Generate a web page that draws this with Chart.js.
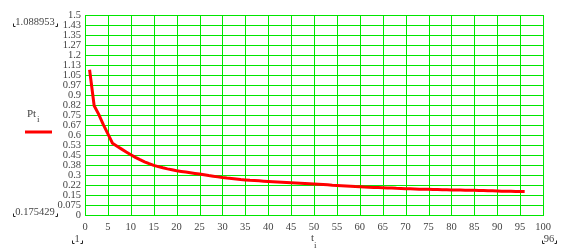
<!DOCTYPE html>
<html>
<head>
<meta charset="utf-8">
<script src="https://cdn.jsdelivr.net/npm/chart.js@4.4.0/dist/chart.umd.min.js"></script>
<style>
  html, body { margin: 0; padding: 0; background: #fff; overflow: hidden; }
  canvas { display: block; }
</style>
</head>
<body>
<canvas id="plot" width="570" height="251"></canvas>
<script>
// t_i = 1..96
const tValues = Array.from({ length: 96 }, (_, i) => i + 1);

// Pt_i
const pValues = [
    1.088953, 0.82, 0.755, 0.678, 0.608, 0.538,
    0.515, 0.494, 0.472, 0.452,
    0.432, 0.415, 0.399, 0.385, 0.372,
    0.363, 0.354, 0.346, 0.339, 0.332,
    0.327, 0.322, 0.317, 0.312, 0.307,
    0.302, 0.296, 0.291, 0.286, 0.281,
    0.277, 0.274, 0.270, 0.266, 0.263,
    0.260, 0.258, 0.256, 0.254, 0.252,
    0.250, 0.248, 0.246, 0.244, 0.242,
    0.240, 0.238, 0.236, 0.234, 0.232,
    0.230, 0.228, 0.226, 0.223, 0.221,
    0.219, 0.217, 0.215, 0.213, 0.212,
    0.210, 0.209, 0.207, 0.206, 0.205,
    0.203, 0.202, 0.200, 0.199, 0.197,
    0.196, 0.195, 0.194, 0.193, 0.193,
    0.192, 0.191, 0.190, 0.189, 0.188,
    0.187, 0.187, 0.186, 0.185, 0.185,
    0.184, 0.183, 0.182, 0.181, 0.180,
    0.179, 0.179, 0.178, 0.177, 0.176, 0.175429
];

// y grid: 20 equal steps of 0.075, labels as Mathcad prints them
const yTickValues = [0, 0.075, 0.15, 0.225, 0.3, 0.375, 0.45, 0.525, 0.6, 0.675, 0.75,
    0.825, 0.9, 0.975, 1.05, 1.125, 1.2, 1.275, 1.35, 1.425, 1.5];
const yTickLabels = ['0', '0.075', '0.15', '0.22', '0.3', '0.38', '0.45', '0.53', '0.6', '0.67', '0.75',
    '0.82', '0.9', '0.97', '1.05', '1.13', '1.2', '1.27', '1.35', '1.43', '1.5'];

// axis limit markers and names
const yMaxLabel = '1.088953';
const yMinLabel = '0.175429';
const xMinLabel = '1';
const xMaxLabel = '96';

const GREEN = '#00e600';
const TEXT = '#444444';
const FONT = '10.5px "Liberation Serif", "DejaVu Serif", serif';

// marker text with small corner brackets, like Mathcad's axis limits
function bracketText(ctx, text, cx, cy) {
    ctx.font = FONT;
    ctx.fillStyle = TEXT;
    ctx.textAlign = 'center';
    ctx.textBaseline = 'middle';
    ctx.fillText(text, cx, cy);
    const w = ctx.measureText(text).width;
    const l = Math.round(cx - w / 2 - 2) + 0.5;
    const r = Math.round(cx + w / 2 + 2) + 0.5;
    const b = Math.round(cy + 4) + 0.5;
    ctx.strokeStyle = '#222';
    ctx.lineWidth = 1;
    ctx.beginPath();
    ctx.moveTo(l, b - 3); ctx.lineTo(l, b); ctx.lineTo(l + 2, b);
    ctx.moveTo(r, b - 3); ctx.lineTo(r, b); ctx.lineTo(r - 2, b);
    ctx.stroke();
}

// crisp 1px green grid on whole pixels, taken from the scales' ticks
const sharpGrid = {
    id: 'sharpGrid',
    beforeDatasetsDraw(chart) {
        const { ctx, chartArea: a, scales } = chart;
        const left = Math.round(a.left), right = Math.round(a.right);
        const top = Math.round(a.top), bottom = Math.round(a.bottom);
        ctx.save();
        ctx.fillStyle = GREEN;
        scales.y.ticks.forEach(t => {
            const y = Math.round(scales.y.getPixelForValue(t.value));
            ctx.fillRect(left, y, right - left + 1, 1);
        });
        scales.x.ticks.forEach(t => {
            const x = Math.round(scales.x.getPixelForValue(t.value));
            ctx.fillRect(x, top, 1, bottom - top + 1);
        });
        ctx.restore();
    }
};

const extras = {
    id: 'extras',
    afterDraw(chart) {
        const ctx = chart.ctx;
        ctx.save();
        bracketText(ctx, yMaxLabel, 35, 22);
        bracketText(ctx, yMinLabel, 35, 212);
        bracketText(ctx, xMinLabel, 77, 239);
        bracketText(ctx, xMaxLabel, 549, 239);

        // y axis name Pt_i
        ctx.fillStyle = TEXT;
        ctx.textAlign = 'left';
        ctx.textBaseline = 'middle';
        ctx.font = '11px "Liberation Serif", serif';
        ctx.fillText('Pt', 27, 114);
        ctx.font = '9px "Liberation Serif", serif';
        ctx.fillText('i', 37, 120);

        // legend line
        ctx.strokeStyle = '#ff0000';
        ctx.lineWidth = 3;
        ctx.beginPath();
        ctx.moveTo(25, 132);
        ctx.lineTo(52, 132);
        ctx.stroke();

        // x axis name t_i
        ctx.font = '11px "Liberation Serif", serif';
        ctx.fillText('t', 311, 238);
        ctx.font = '9px "Liberation Serif", serif';
        ctx.fillText('i', 314, 246);
        ctx.restore();
    }
};

document.addEventListener('DOMContentLoaded', () => {
    const ctx = document.getElementById('plot').getContext('2d');

    new Chart(ctx, {
        type: 'line',
        data: {
            datasets: [{
                data: tValues.map((t, i) => ({ x: t, y: pValues[i] })),
                borderColor: '#ff0000',
                borderWidth: 3,
                pointRadius: 0,
                tension: 0,
                fill: false
            }]
        },
        options: {
            responsive: false,
            devicePixelRatio: 1,
            animation: false,
            layout: { padding: { left: 0, top: 15, right: 27, bottom: 0 } },
            plugins: {
                legend: { display: false },
                tooltip: { enabled: false }
            },
            scales: {
                x: {
                    type: 'linear',
                    min: 0,
                    max: 100,
                    grid: { display: false, drawTicks: false },
                    border: { display: false },
                    ticks: {
                        stepSize: 5,
                        padding: 6,
                        color: TEXT,
                        font: { family: '"Liberation Serif", serif', size: 10.5 },
                        maxRotation: 0,
                        autoSkip: false
                    },
                    afterFit(scale) { scale.height = 36; }
                },
                y: {
                    type: 'linear',
                    min: 0,
                    max: 1.5,
                    afterBuildTicks(scale) {
                        scale.ticks = yTickValues.map(v => ({ value: v }));
                    },
                    grid: { display: false, drawTicks: false },
                    border: { display: false },
                    ticks: {
                        padding: 4,
                        color: TEXT,
                        font: { family: '"Liberation Serif", serif', size: 10.5 },
                        autoSkip: false,
                        callback: (v, i) => yTickLabels[i]
                    },
                    afterFit(scale) { scale.width = 85; }
                }
            }
        },
        plugins: [sharpGrid, extras]
    });
});
</script>
</body>
</html>
